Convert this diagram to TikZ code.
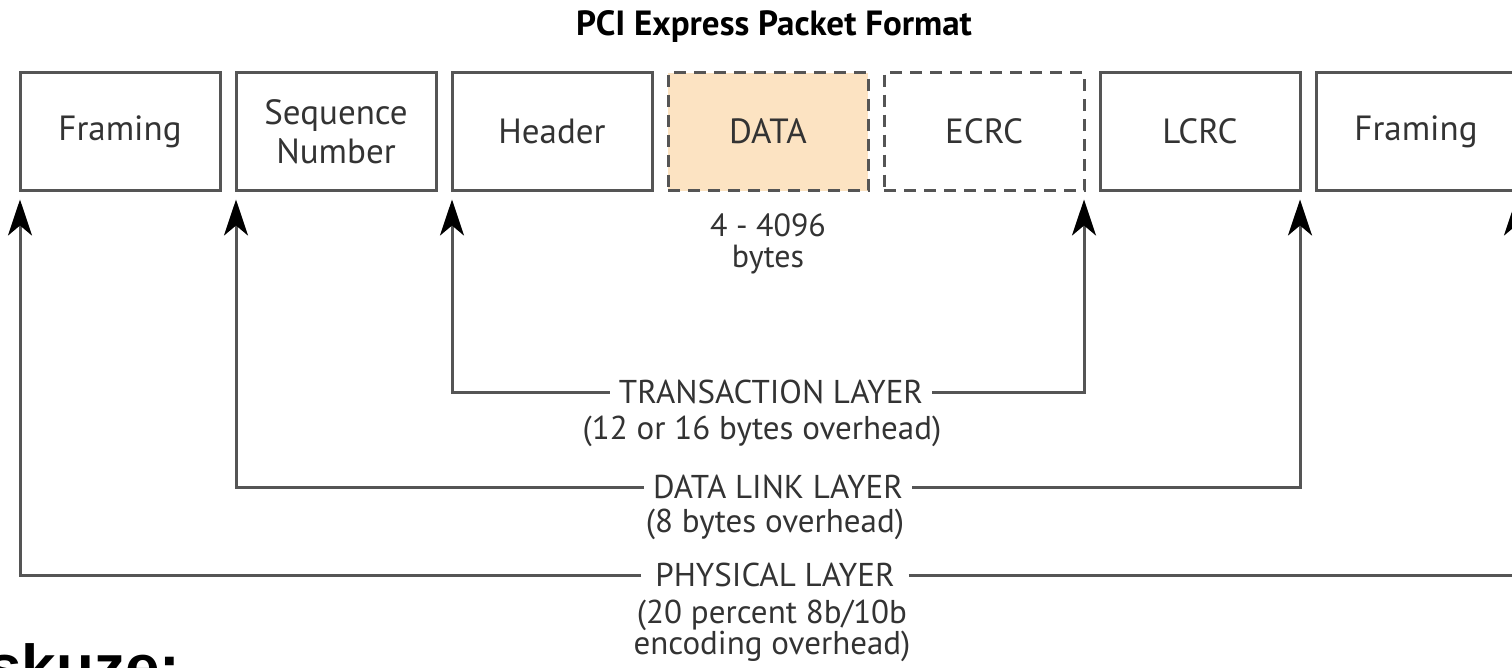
\documentclass[tikz,border=0pt]{standalone}
\usepackage{fontspec}
\setmainfont{PT Sans}
\newfontfamily\argfont{Liberation Sans}
\usetikzlibrary{arrows.meta}
\definecolor{strokegray}{HTML}{555555}
\definecolor{textgray}{HTML}{333333}
\definecolor{datafill}{HTML}{FCE3C2}
\begin{document}
\begin{tikzpicture}[x=1pt,y=-1pt,
  pbox/.style={draw=strokegray, line width=3pt, minimum width=200pt, minimum height=118pt,
    inner sep=0pt, outer sep=0pt, font=\fontsize{35}{39}\selectfont, text=textgray, align=center},
  dbox/.style={pbox, dash pattern=on 12pt off 8pt},
  conn/.style={draw=strokegray, line width=3pt, -{Stealth[length=36pt,width=24pt,inset=10pt,black]}},
  lbl/.style={font=\fontsize{33}{38}\selectfont, text=textgray, inner xsep=9pt, inner ysep=0pt},
  sub/.style={font=\fontsize{33}{31}\selectfont, text=textgray, inner sep=0pt, align=center},
]
\useasboundingbox (0,0) rectangle (1512,667);
\clip (0,0) rectangle (1512,667);

\node[anchor=base, font=\bfseries\fontsize{35}{40}\selectfont, text=black] (title) at (774,35) {PCI Express Packet Format};

\node[pbox] (fr1) at (120,131.5) {Framing};
\node[pbox] (seq) at (336,131.5) {Sequence\\Number};
\node[pbox] (hdr) at (552,131.5) {Header};
\node[dbox, fill=datafill] (data) at (768,131.5) {DATA};
\node[dbox] (ecrc) at (984,131.5) {ECRC};
\node[pbox] (lcrc) at (1200,131.5) {LCRC};
\node[pbox] (fr2) at (1416,131.5) {Framing};

\node[sub, font=\fontsize{32}{31}\selectfont] (bytes) at (768,244) {4 - 4096\\bytes};

\node[lbl] (tl) at (771,392) {TRANSACTION LAYER};
\node[sub] (tls) at (762,431) {(12 or 16 bytes overhead)};
\node[lbl] (dl) at (778,487) {DATA LINK LAYER};
\node[sub] (dls) at (775,524) {(8 bytes overhead)};
\node[lbl, inner xsep=14pt] (pl) at (775,575) {PHYSICAL LAYER};
\node[sub] (pls) at (772,631) {(20 percent 8b/10b\\encoding overhead)};

\draw[conn] (tl.west) -| ([yshift=-9pt]hdr.south west);
\draw[conn] (tl.east) -| ([yshift=-9pt]ecrc.south east);
\draw[conn] (dl.west) -| ([yshift=-9pt]seq.south west);
\draw[conn] (dl.east) -| ([yshift=-9pt]lcrc.south east);
\draw[conn] (pl.west) -| ([yshift=-9pt]fr1.south west);
\draw[conn] (pl.east) -| ([yshift=-9pt]fr2.south east);

\node[anchor=base west, font=\argfont\bfseries\fontsize{62}{70}\selectfont, inner sep=0pt, text=black] (disk) at (-13,688) {skuze:};
\end{tikzpicture}
\end{document}
